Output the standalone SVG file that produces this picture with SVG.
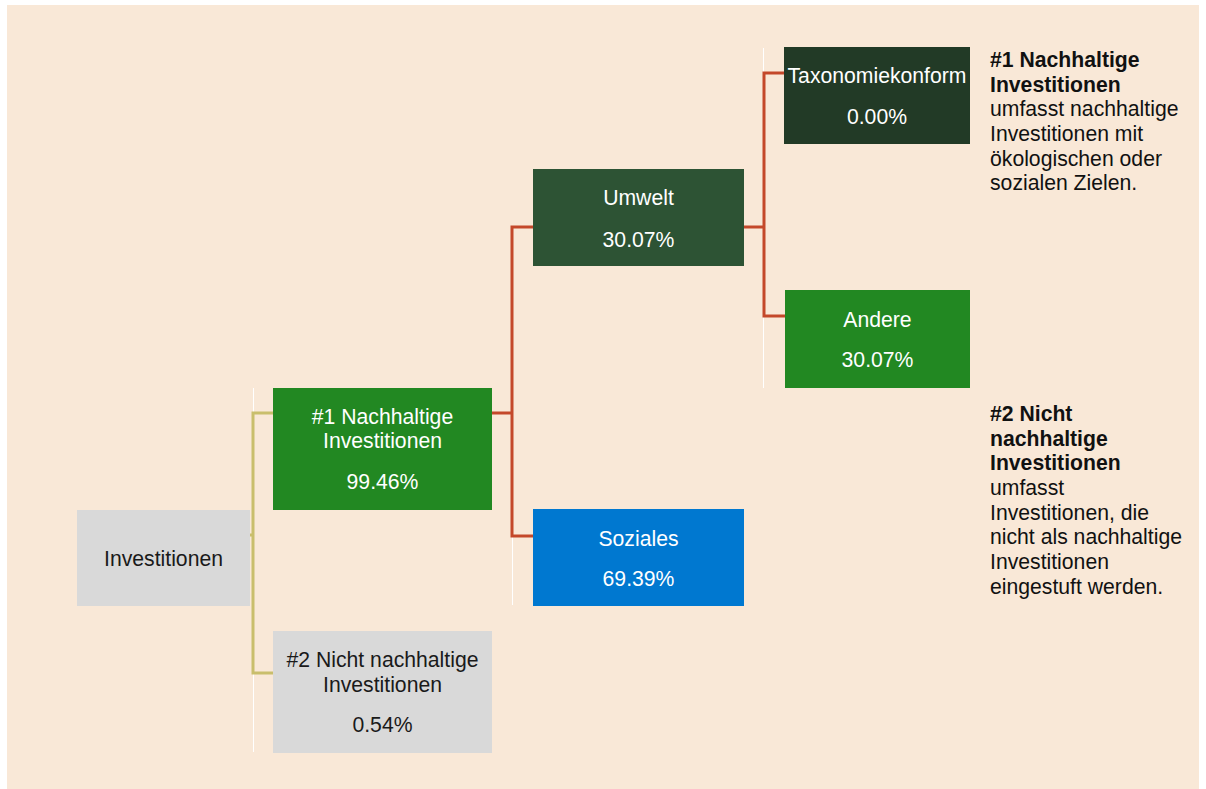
<svg xmlns="http://www.w3.org/2000/svg" width="1206" height="789" viewBox="0 0 1206 789">
<style>
.t{font-family:"Liberation Sans",Arial,sans-serif;font-size:21.2px;text-anchor:middle}
.w{fill:#ffffff}
.k{fill:#1a1a1a}
.n{font-family:"Liberation Sans",Arial,sans-serif;font-size:21.2px;fill:#111111}
.b{font-weight:bold}
.red{fill:none;stroke:#c4482a;stroke-width:3}
.yel{fill:none;stroke:#c9be6c;stroke-width:3}
.wl{stroke:#ffffff;stroke-width:1}
</style>
<rect x="0" y="0" width="1206" height="789" fill="#ffffff"/>
<rect x="7" y="5" width="1192" height="784" fill="#f9e8d7"/>
<g id="guides">
<line class="wl" x1="253.5" y1="388" x2="253.5" y2="752"/>
<line class="wl" x1="512.5" y1="536" x2="512.5" y2="605"/>
<line class="wl" x1="763.5" y1="48" x2="763.5" y2="388"/>
</g>
<g id="connectors">
<path class="yel" d="M250,535 H253 M273,413 H253 V673 H273"/>
<path class="red" d="M492,413 H512 M533,227 H512 V536 H533"/>
<path class="red" d="M744,227 H764 M784,73 H764 V316 H785"/>
</g>
<g id="n-investitionen">
<rect x="77" y="510" width="173" height="96" fill="#d9d9d9"/>
<text class="t k" x="163.5" y="566">Investitionen</text>
</g>
<g id="n-nachhaltig">
<rect x="273" y="388" width="219" height="122" fill="#228822"/>
<text class="t w" x="382.5" y="424">#1 Nachhaltige</text>
<text class="t w" x="382.5" y="448">Investitionen</text>
<text class="t w" x="382.5" y="489">99.46%</text>
</g>
<g id="n-nicht">
<rect x="273" y="631" width="219" height="122" fill="#d9d9d9"/>
<text class="t k" x="382.5" y="667">#2 Nicht nachhaltige</text>
<text class="t k" x="382.5" y="692">Investitionen</text>
<text class="t k" x="382.5" y="732">0.54%</text>
</g>
<g id="n-umwelt">
<rect x="533" y="169" width="211" height="97" fill="#2d5334"/>
<text class="t w" x="638.5" y="205">Umwelt</text>
<text class="t w" x="638.5" y="247">30.07%</text>
</g>
<g id="n-soziales">
<rect x="533" y="509" width="211" height="97" fill="#0078d0"/>
<text class="t w" x="638.5" y="546">Soziales</text>
<text class="t w" x="638.5" y="586">69.39%</text>
</g>
<g id="n-taxonomie">
<rect x="784" y="47" width="186" height="97" fill="#223a26"/>
<text class="t w" x="877" y="83">Taxonomiekonform</text>
<text class="t w" x="877" y="124">0.00%</text>
</g>
<g id="n-andere">
<rect x="785" y="290" width="185" height="98" fill="#228822"/>
<text class="t w" x="877.5" y="327">Andere</text>
<text class="t w" x="877.5" y="367">30.07%</text>
</g>
<g id="legend1">
<text class="n" x="990">
<tspan class="b" x="990" y="67">#1 Nachhaltige</tspan>
<tspan class="b" x="990" y="92">Investitionen</tspan>
<tspan x="990" y="116">umfasst nachhaltige</tspan>
<tspan x="990" y="141">Investitionen mit</tspan>
<tspan x="990" y="166">ökologischen oder</tspan>
<tspan x="990" y="190">sozialen Zielen.</tspan>
</text>
</g>
<g id="legend2">
<text class="n" x="990">
<tspan class="b" x="990" y="421">#2 Nicht</tspan>
<tspan class="b" x="990" y="446">nachhaltige</tspan>
<tspan class="b" x="990" y="470">Investitionen</tspan>
<tspan x="990" y="495">umfasst</tspan>
<tspan x="990" y="520">Investitionen, die</tspan>
<tspan x="990" y="544">nicht als nachhaltige</tspan>
<tspan x="990" y="569">Investitionen</tspan>
<tspan x="990" y="594">eingestuft werden.</tspan>
</text>
</g>
</svg>
